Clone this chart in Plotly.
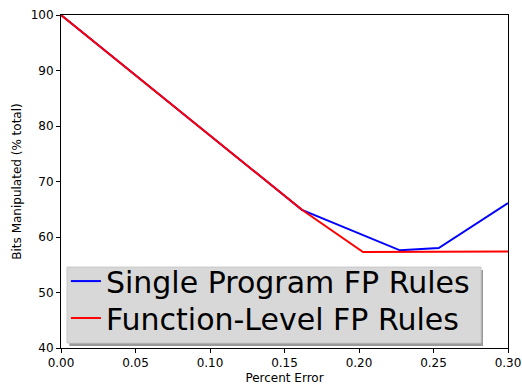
import plotly.graph_objects as go

x_single = [0.0, 0.1617, 0.2275, 0.2535, 0.30]
y_single = [100.0, 64.9, 57.6, 58.0, 66.1]
x_func = [0.0, 0.1617, 0.2027, 0.30]
y_func = [100.0, 64.9, 57.3, 57.4]

fig = go.Figure()
fig.add_trace(go.Scatter(x=x_single, y=y_single, mode="lines", name="Single Program FP Rules",
                         line=dict(color="#0000ff", width=2), legend="legend"))
fig.add_trace(go.Scatter(x=x_func, y=y_func, mode="lines", name="Function-Level FP Rules",
                         line=dict(color="#ff0000", width=2), legend="legend2"))

axis_common = dict(showgrid=False, zeroline=False, showline=True, linecolor="black", linewidth=1,
                   mirror=True, ticks="outside", ticklen=4, tickcolor="black", automargin=False,
                   tickfont=dict(family="DejaVu Sans", size=12, color="black"))
fig.update_xaxes(range=[0, 0.30], tickvals=[0, 0.05, 0.10, 0.15, 0.20, 0.25, 0.30],
                 ticktext=["0.00", "0.05", "0.10", "0.15", "0.20", "0.25", "0.30"],
                 title=dict(text="Percent Error", font=dict(family="DejaVu Sans", size=12, color="black"), standoff=4),
                 **axis_common)
fig.update_yaxes(range=[40, 100], tickvals=[40, 50, 60, 70, 80, 90, 100],
                 title=dict(text="Bits Manipulated (% total)", font=dict(family="DejaVu Sans", size=12, color="black"), standoff=6),
                 **axis_common)

# legend box shadow and frame
fig.add_shape(type="rect", xref="paper", yref="paper", x0=0.0185, x1=0.9441, y0=0.006, y1=0.234,
              fillcolor="#9a9a9a", line=dict(width=0), layer="above")
fig.add_shape(type="rect", xref="paper", yref="paper", x0=0.0134, x1=0.9396, y0=0.015, y1=0.243,
              fillcolor="#d8d8d8", line=dict(width=1, color="#c8c8c8"), layer="above")

leg_font = dict(family="DejaVu Sans", size=30, color="black")
fig.update_layout(
    width=522, height=390,
    margin=dict(l=61, r=14, t=15, b=42),
    plot_bgcolor="white", paper_bgcolor="white",
    legend=dict(x=0.011, y=0.201, xanchor="left", yanchor="middle",
                bgcolor="rgba(0,0,0,0)", borderwidth=0, font=leg_font, itemwidth=30),
    legend2=dict(x=0.011, y=0.090, xanchor="left", yanchor="middle",
                 bgcolor="rgba(0,0,0,0)", borderwidth=0, font=leg_font, itemwidth=30),
    showlegend=True,
)

fig.write_html("out.html")
